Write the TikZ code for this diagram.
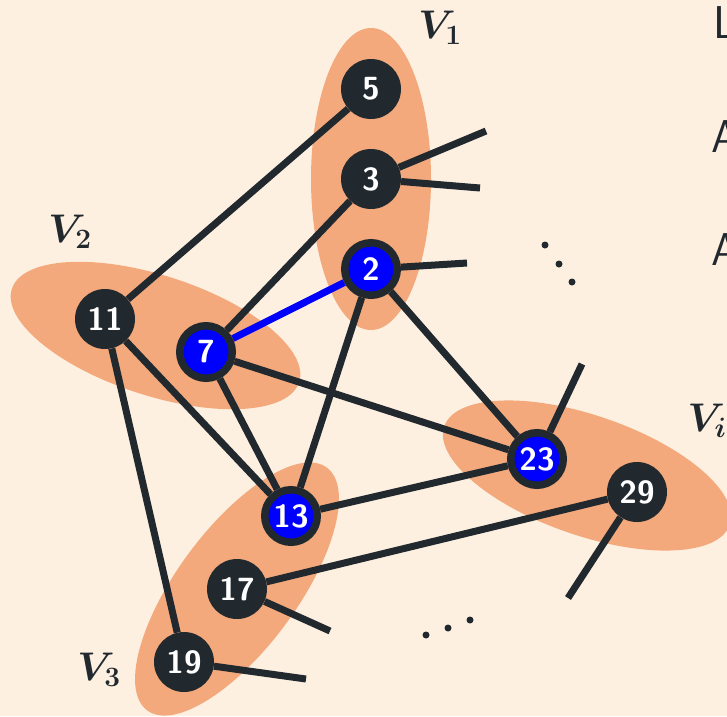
\RequirePackage{fix-cm}
\documentclass[tikz,border=0pt]{standalone}
\usepackage{fontspec}
\usepackage{amsmath}
\usepackage{bm}
\definecolor{bgc}{HTML}{FDF0E1}
\definecolor{ell}{HTML}{F3A97B}
\definecolor{dk}{HTML}{21292F}
\definecolor{bl}{HTML}{0000FF}
\pgfdeclarelayer{bg}
\pgfdeclarelayer{edges}
\pgfsetlayers{bg,edges,main}
\begin{document}
\begin{tikzpicture}[x=1pt,y=-1pt,
  vtx/.style={circle,fill=dk,minimum size=60pt,inner sep=0pt,text=white,
    font=\fontsize{32}{32}\selectfont\sffamily\bfseries},
  hot/.style={vtx,fill=bl,draw=dk,line width=7.5pt,minimum size=52.5pt},
  edge/.style={draw=dk,line width=7pt},
  blueedge/.style={draw=bl,line width=7pt},
  grp/.style={fill=ell},
  setlab/.style={text=dk,inner sep=0pt,font=\fontsize{40}{44}\selectfont},
  cut/.style={anchor=base west,text=dk,inner sep=0pt,font=\fontsize{46}{50}\selectfont\sffamily},
  dot/.style={fill=dk,circle,inner sep=0pt,minimum size=7pt}]
\useasboundingbox (0,0) rectangle (727,716);

% vertices
\node[vtx] (n5)  at (371,89)  {5};
\node[vtx] (n3)  at (371,179) {3};
\node[hot] (n2)  at (371,269) {2};
\node[vtx] (n11) at (105,319) {11};
\node[hot] (n7)  at (206,352) {7};
\node[hot] (n13) at (291,516) {13};
\node[hot] (n23) at (537,459) {23};
\node[vtx] (n29) at (637,492) {29};
\node[vtx] (n17) at (237,589) {17};
\node[vtx] (n19) at (184,662) {19};

% free ends
\coordinate (s3a) at (486,131);
\coordinate (s3b) at (480,188);
\coordinate (s2)  at (467,263);
\coordinate (s23) at (582,364);
\coordinate (s29) at (568,598);
\coordinate (s17) at (330,631);
\coordinate (s19) at (306,679);

% set labels
\node[setlab] (l1) at (440,28)  {$\bm{V_1}$};
\node[setlab] (l2) at (70,232)  {$\bm{V_2}$};
\node[setlab] (l3) at (99,670)  {$\bm{V_3}$};
\node[setlab] (li) at (707,421) {$\bm{V_i}$};

% text cut off at the right edge, as in the reference
\node[cut] (t1) at (713,38)  {L};
\node[cut] (t2) at (711,152) {A};
\node[cut] (t3) at (711,265) {A};

% dots
\node[dot] (d1) at (545,245) {};
\node[dot] (d2) at (559,264) {};
\node[dot] (d3) at (572,282) {};
\node[dot] (e1) at (426,635) {};
\node[dot] (e2) at (448,628) {};
\node[dot] (e3) at (470,620) {};

\begin{pgfonlayer}{bg}
  \fill[bgc] (0,0) rectangle (727,716);
  \fill[grp] (371,179) ellipse [x radius=60,y radius=151];
  \fill[grp,rotate around={-18:(155.5,335.5)}] (155.5,335.5) ellipse [x radius=151,y radius=60];
  \fill[grp,rotate around={53.5:(237,589)}] (237,589) ellipse [x radius=151,y radius=60];
  \fill[grp,rotate around={-19:(587,475.5)}] (587,475.5) ellipse [x radius=151,y radius=60];
\end{pgfonlayer}

\begin{pgfonlayer}{edges}
  \draw[edge] (n5) -- (n11);
  \draw[edge] (n3) -- (n7);
  \draw[edge] (n3) -- (s3a);
  \draw[edge] (n3) -- (s3b);
  \draw[edge] (n2) -- (s2);
  \draw[edge] (n2) -- (n13);
  \draw[edge] (n2) -- (n23);
  \draw[edge] (n11) -- (n13);
  \draw[edge] (n11) -- (n19);
  \draw[edge] (n7) -- (n13);
  \draw[edge] (n7) -- (n23);
  \draw[edge] (n13) -- (n23);
  \draw[edge] (n23) -- (s23);
  \draw[edge] (n29) -- (n17);
  \draw[edge] (n29) -- (s29);
  \draw[edge] (n17) -- (s17);
  \draw[edge] (n19) -- (s19);
  \draw[blueedge] (n2) -- (n7);
\end{pgfonlayer}
\end{tikzpicture}
\end{document}
